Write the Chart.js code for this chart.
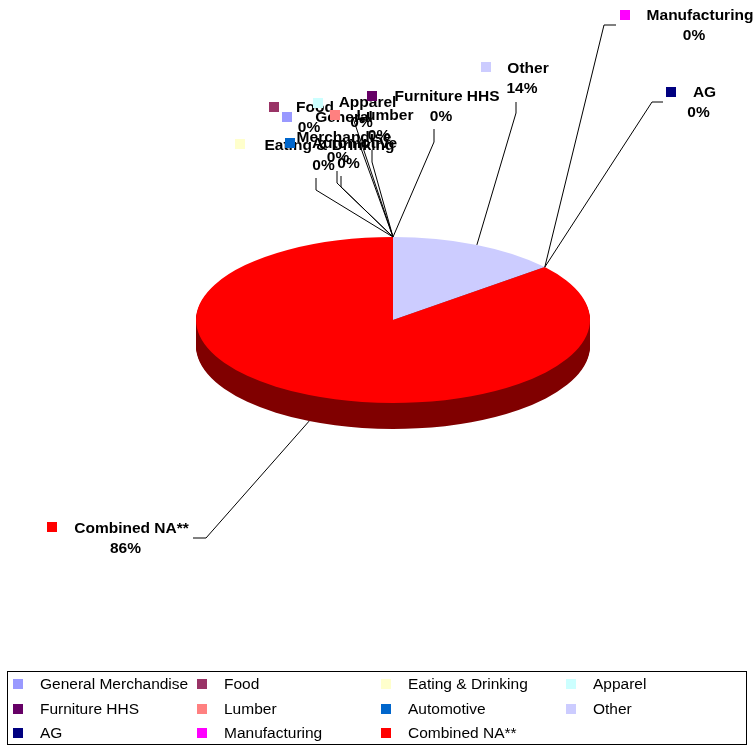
<!DOCTYPE html>
<html>
<head>
<meta charset="utf-8">
<title>Combined NA</title>
<script src="https://cdn.jsdelivr.net/npm/chart.js@4/dist/chart.umd.js"></script>
<style>
  html, body { margin: 0; padding: 0; background: #fff; }
  #wrap { position: relative; width: 755px; height: 747px; overflow: hidden; }
</style>
</head>
<body>
<div id="wrap"><canvas id="pieChart" width="755" height="747"></canvas></div>
<script>
// Values (percent)
const categories = ['General Merchandise', 'Food', 'Eating & Drinking', 'Apparel', 'Furniture HHS', 'Lumber', 'Automotive', 'Other', 'AG', 'Manufacturing', 'Combined NA**'];
const shares = [0, 0, 0, 0, 0, 0, 0, 14, 0, 0, 86];
const colors = ['#9999ff', '#993366', '#ffffcc', '#ccffff', '#660066', '#ff8080', '#0066cc', '#ccccff', '#000080', '#ff00ff', '#ff0000'];
const sideColors = ['#4d4d80', '#4d1a33', '#808066', '#668080', '#330033', '#804040', '#003366', '#666680', '#000040', '#800080', '#800000'];

// Pie is squashed to an ellipse and given a rim
const squash = 83 / 197;
const rimDepth = 26;

// Where each data label sits: marker, text centre, first line baseline, leader line
const labelSpots = [
  { mx: 287, my: 117, tx: 344, ty: 122, lines: ['General', 'Merchandise'], leader: [[337, 183], [337, 171]] },
  { mx: 274, my: 107, tx: 315, ty: 112, lines: ['Food'], leader: [[353, 118]] },
  { mx: 240, my: 144, tx: 329.5, ty: 150, lines: ['Eating & Drinking'], leader: [[316, 190], [316, 178]] },
  { mx: 318, my: 103, tx: 367.5, ty: 107, lines: ['Apparel'], leader: [[358, 140]] },
  { mx: 372, my: 96, tx: 447, ty: 101, lines: ['Furniture HHS'], leader: [[434, 142], [434, 129]] },
  { mx: 335, my: 115, tx: 385, ty: 120, lines: ['Lumber'], leader: [[372, 162], [372, 150]] },
  { mx: 290, my: 143, tx: 354.5, ty: 148, lines: ['Automotive'], leader: [[341, 187], [341, 176]] },
  { mx: 486, my: 67, tx: 528, ty: 73, lines: ['Other'], leader: [[516, 113], [516, 102]] },
  { mx: 671, my: 92, tx: 704.5, ty: 97, lines: ['AG'], leader: [[652, 102], [663, 102]] },
  { mx: 625, my: 15, tx: 700, ty: 20, lines: ['Manufacturing'], leader: [[604, 25], [616, 25]] },
  { mx: 52, my: 527, tx: 131.5, ty: 533, lines: ['Combined NA**'], leader: [[206, 538], [193, 538]] }
];

function squashAbout(ctx, cx, cy) {
  ctx.translate(cx, cy);
  ctx.scale(1, squash);
  ctx.translate(-cx, -cy);
}

const rimPlugin = {
  id: 'rim',
  beforeDatasetsDraw(chart) {
    const ctx = chart.ctx;
    const arcs = chart.getDatasetMeta(0).data;
    const { x: cx, y: cy } = arcs[0];
    for (let d = rimDepth; d > 0; d--) {
      ctx.save();
      ctx.translate(0, d);
      squashAbout(ctx, cx, cy);
      arcs.forEach((arc, i) => {
        const fill = arc.options.backgroundColor;
        arc.options.backgroundColor = sideColors[i];
        arc.draw(ctx);
        arc.options.backgroundColor = fill;
      });
      ctx.restore();
    }
    ctx.save();
    squashAbout(ctx, cx, cy);
  },
  afterDatasetsDraw(chart) {
    chart.ctx.restore();
  }
};

const labelPlugin = {
  id: 'pieLabels',
  afterDraw(chart) {
    const ctx = chart.ctx;
    const arcs = chart.getDatasetMeta(0).data;
    ctx.save();

    // leader lines start on the slice edge
    ctx.strokeStyle = '#000';
    ctx.lineWidth = 1;
    arcs.forEach((arc, i) => {
      const mid = (arc.startAngle + arc.endAngle) / 2;
      const ax = arc.x + arc.outerRadius * Math.cos(mid);
      let ay = arc.y + arc.outerRadius * Math.sin(mid) * squash;
      if (Math.sin(mid) > 0) ay += rimDepth;
      const pts = labelSpots[i].leader;
      ctx.beginPath();
      ctx.moveTo(ax, ay);
      pts.forEach(p => ctx.lineTo(p[0], p[1]));
      ctx.stroke();
    });

    // markers and text, the percent line sits a little left of the name
    ctx.font = 'bold 15.5px "Liberation Sans", Arial, sans-serif';
    ctx.textAlign = 'center';
    labelSpots.forEach((spot, i) => {
      ctx.fillStyle = colors[i];
      ctx.fillRect(spot.mx - 5, spot.my - 5, 10, 10);
      ctx.fillStyle = '#000';
      spot.lines.forEach((row, r) => ctx.fillText(row, spot.tx, spot.ty + r * 20));
      ctx.fillText(shares[i] + '%', spot.tx - 6, spot.ty + spot.lines.length * 20);
    });

    // legend box
    ctx.strokeStyle = '#000';
    ctx.strokeRect(7.5, 671.5, 739, 73);
    ctx.font = '15.5px "Liberation Sans", Arial, sans-serif';
    ctx.textAlign = 'left';
    const colX = [13, 197, 381, 566];
    const rowY = [684, 709, 733];
    categories.forEach((name, i) => {
      const x = colX[i % 4];
      const y = rowY[Math.floor(i / 4)];
      ctx.fillStyle = colors[i];
      ctx.fillRect(x, y - 5, 10, 10);
      ctx.fillStyle = '#000';
      ctx.fillText(name, x + 27, y + 5);
    });
    ctx.restore();
  }
};

new Chart(document.getElementById('pieChart').getContext('2d'), {
  type: 'pie',
  data: {
    labels: categories,
    datasets: [{ data: shares, backgroundColor: colors, borderWidth: 0 }]
  },
  options: {
    responsive: false,
    animation: false,
    events: [],
    layout: { padding: { left: 196, right: 165, top: 123, bottom: 230 } },
    plugins: { legend: { display: false }, tooltip: { enabled: false } }
  },
  plugins: [rimPlugin, labelPlugin]
});
</script>
</body>
</html>
